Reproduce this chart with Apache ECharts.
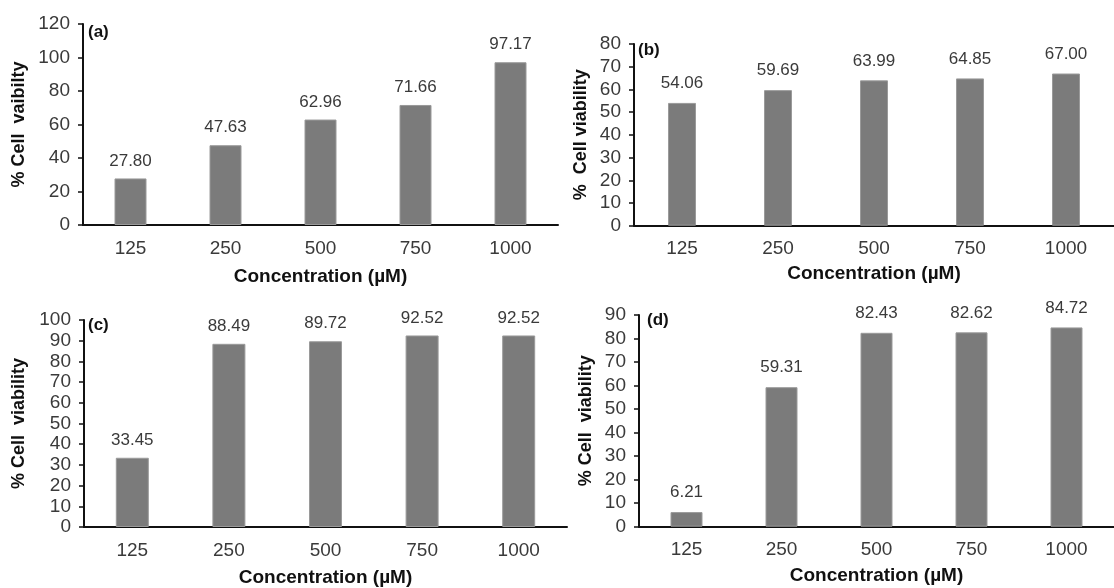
<!DOCTYPE html>
<html><head><meta charset="utf-8">
<script src="https://cdn.jsdelivr.net/npm/echarts@6/dist/echarts.min.js"></script>
<style>html,body{margin:0;padding:0;background:#fff}#c{width:1114px;height:588px}</style>
</head><body><div id="c"></div>
<script>
const categories = ['125', '250', '500', '750', '1000'];
const valuesA = [27.80, 47.63, 62.96, 71.66, 97.17];
const valuesB = [54.06, 59.69, 63.99, 64.85, 67.00];
const valuesC = [33.45, 88.49, 89.72, 92.52, 92.52];
const valuesD = [6.21, 59.31, 82.43, 82.62, 84.72];
const panelLabels = ['(a)', '(b)', '(c)', '(d)'];
const yNames = ['% Cell  vaibilty', '%  Cell viability', '% Cell  viability', '% Cell  viability'];
const xName = 'Concentration (µM)';
const yMax = [120, 80, 100, 90];
const yInterval = [20, 10, 10, 10];

const FONT = 'Liberation Sans, Arial, sans-serif';
const grids = [
  {left: 83, top: 24, width: 475, height: 201},
  {left: 634, top: 44, width: 499, height: 181.7},
  {left: 84, top: 320, width: 483, height: 208.7},
  {left: 639, top: 315, width: 486, height: 211.7}
];
const barW = [32, 28, 33, 32];
const nameGapX = [42, 39, 41, 40];
const nameGapY = [55, 44, 56, 44];
const labelDist = [9, 11, 9, 11];
const panelPos = [[88, 34], [638, 52], [88, 327], [647, 322]];
const allValues = [valuesA, valuesB, valuesC, valuesD];

const option = {
  animation: false,
  grid: grids,
  xAxis: grids.map((g, i) => ({
    type: 'category', gridIndex: i, data: categories,
    name: xName, nameLocation: 'middle', nameGap: nameGapX[i],
    nameTextStyle: {fontFamily: FONT, fontSize: 19, fontWeight: 'bold', color: '#111'},
    axisLine: {lineStyle: {color: '#111', width: 2}},
    axisTick: {show: false},
    axisLabel: {fontFamily: FONT, fontSize: 19, color: '#3a3a3a', margin: 14}
  })),
  yAxis: grids.map((g, i) => ({
    type: 'value', gridIndex: i, min: 0, max: yMax[i], interval: yInterval[i],
    name: yNames[i], nameLocation: 'middle', nameGap: nameGapY[i], nameRotate: 90,
    nameTextStyle: {fontFamily: FONT, fontSize: 18, fontWeight: 'bold', color: '#111'},
    axisLine: {show: true, lineStyle: {color: '#111', width: 2}},
    axisTick: {show: true, length: 5, lineStyle: {color: '#111', width: 1.5}},
    splitLine: {show: false},
    axisLabel: {fontFamily: FONT, fontSize: 19, color: '#3a3a3a', margin: 13}
  })),
  series: allValues.map((vals, i) => ({
    type: 'bar', xAxisIndex: i, yAxisIndex: i, data: vals, barWidth: barW[i],
    itemStyle: {color: '#7b7b7b', borderColor: '#9a9a9a', borderWidth: 1},
    label: {show: true, position: 'top', distance: labelDist[i],
      formatter: p => p.value.toFixed(2),
      fontFamily: FONT, fontSize: 17, color: '#3a3a3a'}
  })),
  graphic: panelLabels.map((t, i) => ({
    type: 'text', left: panelPos[i][0], top: panelPos[i][1] - 10,
    style: {text: t, fontFamily: FONT, fontSize: 17, fontWeight: 'bold', fill: '#111'}
  }))
};
echarts.init(document.getElementById('c')).setOption(option);
</script>
</body></html>
